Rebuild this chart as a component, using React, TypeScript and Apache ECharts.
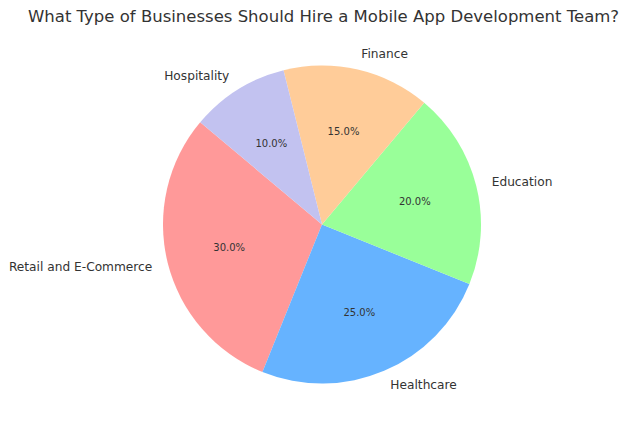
import React, { useEffect, useRef } from "react";
import * as echarts from "echarts";

const categories = ["Retail and E-Commerce", "Healthcare", "Education", "Finance", "Hospitality"];
const shares = [30, 25, 20, 15, 10];
const colors = ["#ff9999", "#66b3ff", "#99ff99", "#ffcc99", "#c2c2f0"];
const titleText = "What Type of Businesses Should Hire a Mobile App Development Team?";

const FONT = "DejaVu Sans";
const CX = 322;
const CY = 224.5;
const R = 159;

export default function App() {
  const ref = useRef<HTMLDivElement>(null);
  useEffect(() => {
    if (!ref.current) return;
    const chart = echarts.init(ref.current, null, { renderer: "svg" });
    const data = categories.map((name, i) => ({
      name,
      value: shares[i],
      itemStyle: { color: colors[i] },
    }));
    chart.setOption({
      animation: false,
      backgroundColor: "#ffffff",
      title: {
        text: titleText,
        left: 28,
        top: 8,
        padding: 0,
        textStyle: { fontFamily: FONT, fontSize: 16.5, fontWeight: "normal", color: "#333333" },
      },
      series: [
        {
          type: "pie",
          center: [CX, CY],
          radius: [0, R],
          startAngle: 140,
          clockwise: false,
          avoidLabelOverlap: false,
          silent: true,
          data,
          itemStyle: { borderWidth: 0 },
          label: {
            show: true,
            position: "outside",
            formatter: "{b}",
            fontFamily: FONT,
            fontSize: 12.2,
            color: "#333333",
            distanceToLabelLine: 0,
            bleedMargin: 0,
            overflow: "none",
          },
          labelLine: { show: false, length: R * 0.1, length2: 0 },
        },
        {
          type: "pie",
          center: [CX, CY],
          radius: [0, R * 1.165],
          startAngle: 140,
          clockwise: false,
          avoidLabelOverlap: false,
          silent: true,
          data: categories.map((name, i) => ({ name, value: shares[i] })),
          itemStyle: { color: "rgba(0,0,0,0)", borderWidth: 0 },
          label: {
            show: true,
            position: "inside",
            formatter: (p: any) => p.percent.toFixed(1) + "%",
            fontFamily: FONT,
            fontSize: 10,
            color: "#333333",
          },
          labelLine: { show: false },
        },
      ],
    });
    return () => chart.dispose();
  }, []);
  return (
    <div
      ref={ref}
      style={{ position: "absolute", left: 0, top: 0, width: 624, height: 432 }}
    />
  );
}
